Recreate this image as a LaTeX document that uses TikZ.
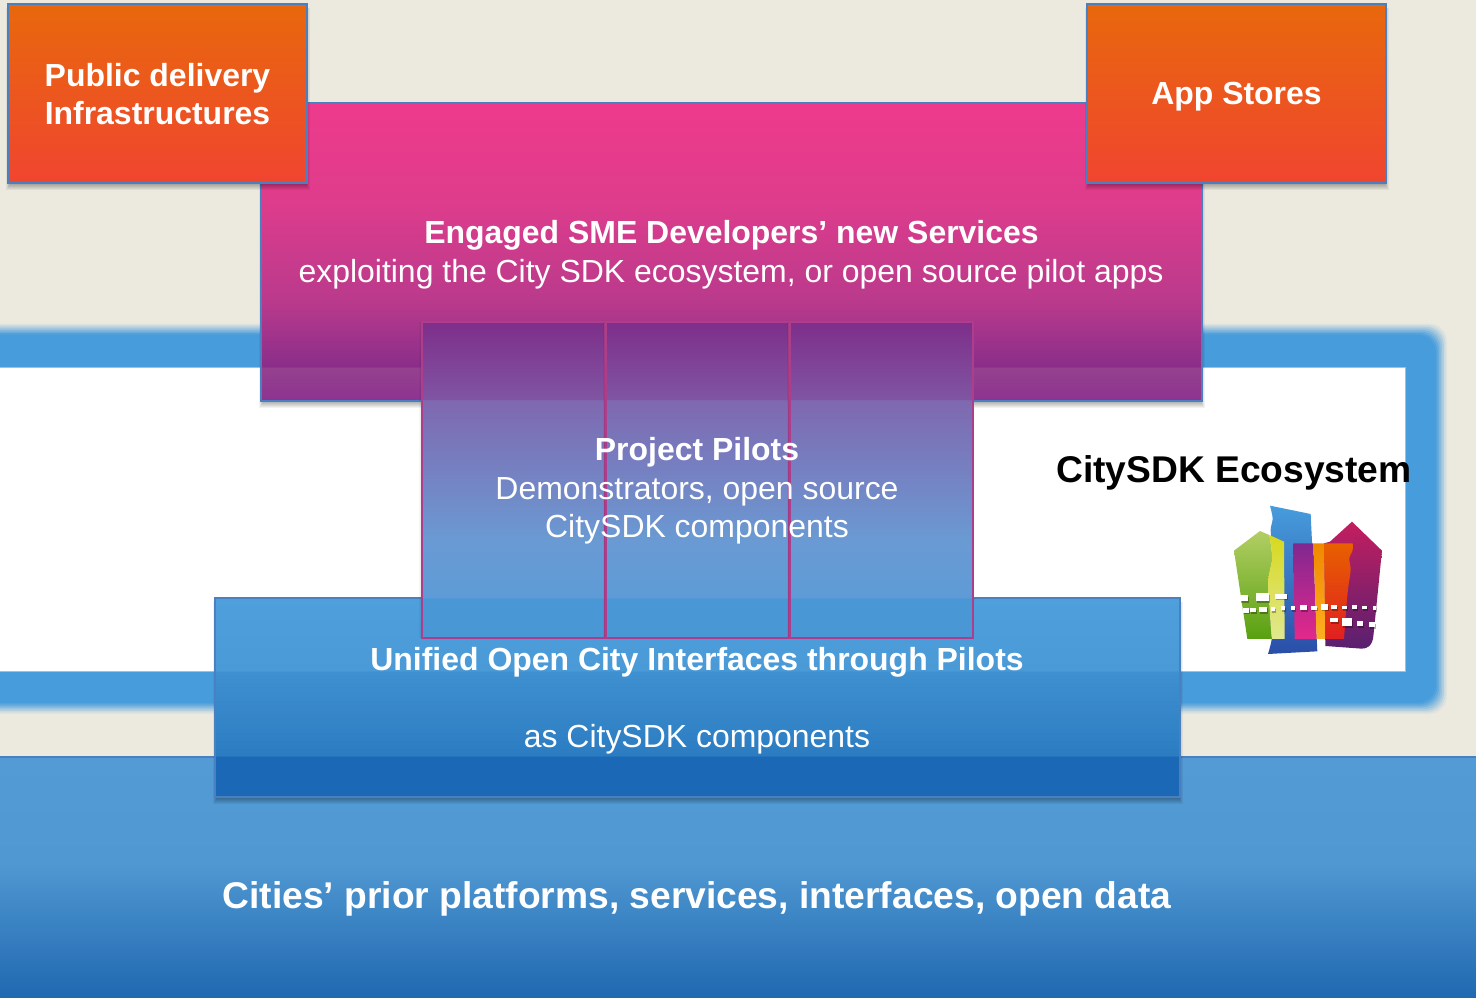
\documentclass[tikz,border=0pt]{standalone}
\usepackage{fontspec}
\setmainfont{Liberation Sans}
% palette
\definecolor{bgc}{HTML}{ECE9DF}
\definecolor{ring}{HTML}{479CDC}
\definecolor{edgeblue}{HTML}{4A80C0}
\definecolor{edgepink}{HTML}{AE3E8C}
\definecolor{pkA}{HTML}{EE3A8C}\definecolor{pkA2}{HTML}{DF3C8C}\definecolor{pkA3}{HTML}{BA3A8C}\definecolor{pkB}{HTML}{8A2E8A}\definecolor{pkC}{HTML}{96418F}\definecolor{pkD}{HTML}{8C3390}
\definecolor{piA}{HTML}{7E2E8A}\definecolor{piB}{HTML}{7F55A2}\definecolor{piC}{HTML}{7F68B0}\definecolor{piD}{HTML}{7484C4}\definecolor{piE}{HTML}{6A9AD3}\definecolor{piF}{HTML}{5E9BD6}\definecolor{piG}{HTML}{4A97D5}
\definecolor{blA}{HTML}{4F9FDC}\definecolor{blB}{HTML}{4A9AD8}\definecolor{blC}{HTML}{3F90D0}\definecolor{blD}{HTML}{2C7CC2}\definecolor{blE}{HTML}{1A68B6}
\definecolor{baA}{HTML}{529BD4}\definecolor{baB}{HTML}{4F98D2}\definecolor{baC}{HTML}{2068B0}
\definecolor{orA}{HTML}{E8680C}\definecolor{orB}{HTML}{F04530}
\pgfdeclareverticalshading{pinkshade}{100bp}{color(0bp)=(pkD);color(25bp)=(pkD);color(30.6bp)=(pkC);color(30.8bp)=(pkB);color(41.9bp)=(pkA3);color(58.7bp)=(pkA2);color(75bp)=(pkA);color(100bp)=(pkA)}
\pgfdeclareverticalshading{pilotshade}{100bp}{color(0bp)=(piG);color(25bp)=(piG);color(31.2bp)=(piG);color(31.5bp)=(piF);color(40.5bp)=(piE);color(50bp)=(piD);color(62.6bp)=(piC);color(62.8bp)=(piB);color(75bp)=(piA);color(100bp)=(piA)}
\pgfdeclareverticalshading{unishade}{100bp}{color(0bp)=(blE);color(25bp)=(blE);color(35.05bp)=(blE);color(35.55bp)=(blD);color(56.4bp)=(blC);color(56.9bp)=(blB);color(75bp)=(blA);color(100bp)=(blA)}
\pgfdeclareverticalshading{baseshade}{100bp}{color(0bp)=(baC);color(25bp)=(baC);color(53bp)=(baB);color(75bp)=(baA);color(100bp)=(baA)}
\tikzset{
  box/.style={anchor=north west,inner sep=0pt,outer sep=0pt,line width=1.6pt},
  pinkbox/.style={box,draw=edgeblue,shading=pinkshade},
  orangebox/.style={box,draw=edgeblue,top color=orA,bottom color=orB,minimum width=299pt,minimum height=179pt},
  pilotbox/.style={box,line width=1.3pt,draw=edgepink,shading=pilotshade,minimum width=184pt,minimum height=316pt},
  unibox/.style={box,draw=edgeblue,shading=unishade},
  basebox/.style={box,draw=edgeblue,shading=baseshade},
  head/.style={anchor=base,text=white,font=\fontsize{31.95}{38}\selectfont\bfseries},
  sub/.style={anchor=base,text=white,font=\fontsize{31.95}{38}\selectfont},
  big/.style={anchor=base,font=\fontsize{37.2}{44}\selectfont\bfseries},
  tile/.style={fill=white,draw=none},
}
% soft shadow below a rectangle x0,y0,x1,y1
\newcommand{\softshadow}[4]{%
  \foreach \s in {0,1,2,3,4,5,6}{%
    \fill[black,opacity=.05] (#1+2-\s*.6,#2+4) rectangle (#3-1+\s*.6,#4+1+\s*.95);}}
\begin{document}
\begin{tikzpicture}[x=1pt,y=-1pt]
\useasboundingbox (0,0) rectangle (1476,997);
\fill[bgc] (0,0) rectangle (1476,997);
% blurred frame
\foreach \i/\p in {0/8,1/20,2/35,3/50,4/65,5/80,6/92,7/100}{
  \fill[ring!\p!bgc,rounded corners=18pt] (-60,323.5+\i*1.6) rectangle (1447-\i*1.6,714-\i*1.6);
}
\fill[white,draw=ring!60!white,line width=1pt] (-5,367) rectangle (1405,671);
% logo
\begin{scope}[shift={(1180,490)},x=0.3333pt,y=-0.3333pt]
  \shade[top color=ring,bottom color={rgb,255:red,42;green,78;blue,168}]
    (270,47) -- (392,72) -- (412,484) -- (264,492)
    -- plot[smooth] coordinates {(264,492) (276,440) (268,380) (268,300) (264,250) (276,180) (272,120) (278,85) (270,47)} -- cycle;
  \shade[top color={rgb,255:red,178;green,206;blue,100},bottom color={rgb,255:red,88;green,160;blue,16}]
    (162,182) -- (240,123) -- (268,135)
    -- plot[smooth] coordinates {(268,135) (276,200) (265,270) (270,380) (276,447)} -- (202,447) -- cycle;
  \shade[top color={rgb,255:red,216;green,216;blue,30},bottom color={rgb,255:red,224;green,232;blue,144}]
    (268,135) -- (312,155) -- (314,447) -- (276,447)
    -- plot[smooth] coordinates {(276,447) (270,380) (265,270) (276,200) (268,135)} -- cycle;
  \shade[top color={rgb,255:red,196;green,30;blue,96},bottom color={rgb,255:red,88;green,32;blue,112}]
    (450,155) -- (516,95) -- (606,182) -- (580,440) .. controls (576,470) and (560,476) .. (545,476) -- (436,468) -- (432,160) -- cycle;
  \shade[top color={rgb,255:red,128;green,40;blue,144},bottom color={rgb,255:red,228;green,40;blue,140}]
    (340,160) -- (400,160) -- (410,447) -- (344,447) -- cycle;
  \shade[top color={rgb,255:red,240;green,136;blue,0},bottom color={rgb,255:red,253;green,176;blue,32}]
    (400,160) -- (432,160) -- (436,447) -- (410,447) -- cycle;
  \shade[top color={rgb,255:red,232;green,96;blue,0},bottom color={rgb,255:red,224;green,32;blue,32}]
    (432,160) -- (518,160)
    -- plot[smooth] coordinates {(518,160) (518,180) (508,205) (512,240) (505,290) (500,340) (492,447)} -- (436,447) -- cycle;
  % road tiles
  \foreach \x/\y/\w/\h in {180/316/25/17,228/310/40/24,285/311/36/15,
     190/355/16/13,210/354/18/13,236/350/24/17,272/351/14/12,302/348/14/13,
     332/348/14/12,360/344/22/16,394/348/16/11,422/343/22/16,454/345/18/13,
     486/347/16/10,516/346/16/12,546/347/16/10,578/348/10/12,
     450/385/24/12,486/384/30/24,530/393/20/15,568/397/16/14}{
    \fill[black,opacity=.3] (\x+3,\y+5) rectangle +(\w,\h);
    \fill[tile] (\x,\y) rectangle +(\w,\h);
  }
\end{scope}
% bottom bar
\node[basebox,minimum width=1480pt,minimum height=242pt] (base) at (-2,757) {};
% unified interfaces box
\softshadow{215}{598}{1180}{797}
\node[unibox,minimum width=965pt,minimum height=199pt] (uni) at (215,598) {};
% SME services box
\softshadow{261}{103}{1202}{401}
\node[pinkbox,minimum width=941pt,minimum height=298pt] (sme) at (261,103) {};
% orange boxes
\softshadow{8}{4}{307}{183}
\node[orangebox] (pub) at (8,4) {};
\softshadow{1087}{4}{1386}{183}
\node[orangebox] (app) at (1087,4) {};
% pilot columns
\foreach \n/\x in {pa/422,pb/606,pc/790}{
  \foreach \s in {1,2,3}{\fill[black,opacity=.03] (\x-\s,322) rectangle (\x+\s,638);}
  \node[pilotbox,minimum width=183pt] (\n) at (\x,322) {};
}
% texts
\node[head] (t1) at (157.5,86) {Public delivery};
\node[head] (t2) at (157.5,124) {Infrastructures};
\node[head] (t3) at (1236.5,104) {App Stores};
\node[head] (t4) at (731.5,243) {Engaged SME Developers’ new Services};
\node[sub]  (t5) at (731,282) {exploiting the City SDK ecosystem, or open source pilot apps};
\node[head] (t6) at (697,460) {Project Pilots};
\node[sub]  (t7) at (697,499) {Demonstrators, open source};
\node[sub]  (t8) at (697,537) {CitySDK components};
\node[head] (t9) at (697,670) {Unified Open City Interfaces through Pilots};
\node[sub]  (t10) at (697,747) {as CitySDK components};
\node[big,text=white] (t11) at (697,908) {Cities’ prior platforms, services, interfaces, open data};
\node[big,text=black] (t12) at (1234,482) {CitySDK Ecosystem};
\end{tikzpicture}
\end{document}
